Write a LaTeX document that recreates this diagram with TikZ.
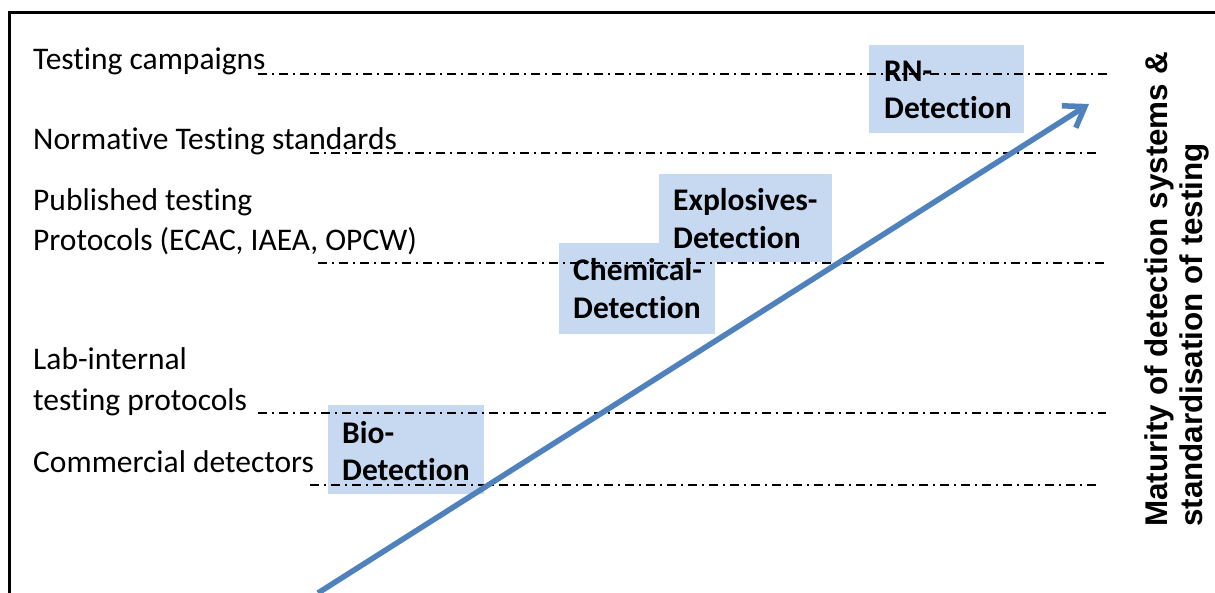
\documentclass[tikz,border=0pt]{standalone}
\usepackage{fontspec}
\setmainfont{Carlito}[Ligatures=NoCommon]
\newfontfamily\arialbold{Liberation Sans}[UprightFont=* Bold]
\usetikzlibrary{arrows.meta}
\definecolor{boxblue}{RGB}{198,217,241}
\definecolor{arrowblue}{RGB}{79,129,189}
\tikzset{
  lbl/.style={anchor=base west, inner sep=0pt, font=\fontsize{31.5}{37}\selectfont},
  boxtxt/.style={anchor=base west, inner sep=0pt, font=\fontsize{31.5}{37}\selectfont\bfseries},
  fillbox/.style={fill=boxblue, draw=none},
  levelline/.style={line width=1.8pt, dash pattern=on 9pt off 5pt on 2pt off 5pt},
  frameline/.style={line width=2.2pt, black},
  sidetxt/.style={anchor=base west, inner sep=0pt, rotate=90, font=\fontsize{31.4}{36}\arialbold},
  bigarrow/.style={line width=5.5pt, arrowblue, -{Straight Barb[length=19pt,width=26pt]}}
}
\begin{document}
\begin{tikzpicture}[x=1pt,y=-1pt]
\useasboundingbox (0,0) rectangle (1215,593);
% frame
\coordinate (fTR) at (1215,12.5);
\coordinate (fTL) at (9.5,12.5);
\coordinate (fBL) at (9.5,593);
\draw[frameline] (fTR) -- (fTL) -- (fBL);
% boxes
\fill[fillbox] (869,45) rectangle (1024,133);
\fill[fillbox] (659,174) rectangle (832,262);
\fill[fillbox] (559,243) rectangle (715,334);
\fill[fillbox] (328,405) rectangle (484,494);
% level lines
\coordinate (a1) at (258,74);  \coordinate (b1) at (1107,74);
\coordinate (a2) at (310,153); \coordinate (b2) at (1096,153);
\coordinate (a3) at (318,263); \coordinate (b3) at (1106,263);
\coordinate (a4) at (258,413); \coordinate (b4) at (1106,413);
\coordinate (a5) at (310,485); \coordinate (b5) at (1096,485);
\foreach \i in {1,...,5} {\draw[levelline] (a\i) -- (b\i);}
% left labels
\node[lbl] (l1) at (33,70) {Testing campaigns};
\node[lbl] (l2) at (33,150) {Normative Testing standards};
\node[lbl] (l3a) at (33,211) {Published testing};
\node[lbl] (l3b) at (33,251) {Protocols (ECAC, IAEA, OPCW)};
\node[lbl] (l4a) at (33,370) {Lab-internal};
\node[lbl] (l4b) at (33,410) {testing protocols};
\node[lbl] (l5) at (33,472) {Commercial detectors};
% box texts
\node[boxtxt] (rn1) at (884,82) {RN-};
\node[boxtxt] (rn2) at (884,119) {Detection};
\node[boxtxt] (ex1) at (673,211) {Explosives-};
\node[boxtxt] (ex2) at (673,249) {Detection};
\node[boxtxt] (ch1) at (573,281) {Chemical-};
\node[boxtxt] (ch2) at (573,319) {Detection};
\node[boxtxt] (bi1) at (342,443) {Bio-};
\node[boxtxt] (bi2) at (342,480) {Detection};
% side text
\node[sidetxt] (s1) at (1167,527) {Maturity of detection systems \&};
\node[sidetxt] (s2) at (1202,527) {standardisation of testing};
% arrow
\coordinate (arS) at (318,593);
\coordinate (arE) at (1089,104);
\draw[bigarrow] (arS) -- (arE);
\end{tikzpicture}
\end{document}
